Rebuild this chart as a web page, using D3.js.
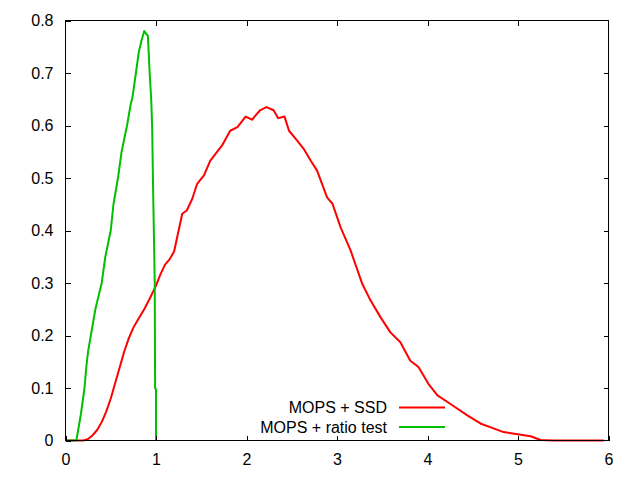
<!DOCTYPE html>
<html>
<head>
<meta charset="utf-8">
<script src="https://cdn.jsdelivr.net/npm/d3@7"></script>
<style>
  body { margin: 0; background: #fff; }
  text { font-family: "Liberation Sans", Arial, sans-serif; font-size: 16px; fill: #000; }
</style>
</head>
<body>
<div id="chart"></div>
<script>
// series: MOPS + SSD
const ssdX = [0, 0.2, 0.25, 0.3, 0.35, 0.4, 0.45, 0.5, 0.55, 0.6, 0.65, 0.7, 0.75, 0.8, 0.87, 0.93, 1.0,
  1.05, 1.1, 1.15, 1.2, 1.25, 1.29, 1.34, 1.4, 1.455, 1.53, 1.6, 1.73, 1.82, 1.9, 1.99, 2.06, 2.15,
  2.22, 2.3, 2.35, 2.42, 2.47, 2.56, 2.63, 2.71, 2.78, 2.89, 2.95, 3.04, 3.15, 3.28, 3.37, 3.48, 3.59,
  3.7, 3.81, 3.9, 4.01, 4.11, 4.25, 4.44, 4.59, 4.7, 4.84, 5.03, 5.14, 5.25, 5.39, 5.95];
const ssdY = [0, 0, 0.003, 0.01, 0.02, 0.035, 0.055, 0.08, 0.11, 0.14, 0.17, 0.195, 0.215, 0.23, 0.25, 0.27, 0.295,
  0.317, 0.335, 0.345, 0.36, 0.40, 0.432, 0.438, 0.46, 0.489, 0.505, 0.533, 0.562, 0.59, 0.597, 0.617, 0.611, 0.629,
  0.635, 0.629, 0.614, 0.617, 0.59, 0.571, 0.556, 0.533, 0.514, 0.463, 0.451, 0.406, 0.362, 0.298, 0.267, 0.235, 0.206,
  0.187, 0.152, 0.14, 0.108, 0.086, 0.07, 0.048, 0.032, 0.025, 0.016, 0.011, 0.008, 0.001, 0, 0];

// series: MOPS + ratio test
const ratioX = [0, 0.12, 0.14, 0.17, 0.21, 0.23, 0.25, 0.28, 0.33, 0.40, 0.44, 0.50, 0.53, 0.58, 0.62, 0.68,
  0.72, 0.74, 0.77, 0.81, 0.84, 0.87, 0.89, 0.91, 0.92, 0.93, 0.947, 0.958, 0.966, 0.976, 0.986, 0.99, 1.0, 1.0];
const ratioY = [0, 0, 0.02, 0.05, 0.10, 0.14, 0.17, 0.20, 0.25, 0.30, 0.35, 0.40, 0.45, 0.50, 0.55, 0.60,
  0.64, 0.654, 0.69, 0.74, 0.762, 0.78, 0.775, 0.771, 0.737, 0.70, 0.65, 0.594, 0.50, 0.40, 0.30, 0.10, 0.097, 0];

const xTicks = [0, 1, 2, 3, 4, 5, 6];
const yTicks = [0, 0.1, 0.2, 0.3, 0.4, 0.5, 0.6, 0.7, 0.8];

const series = [
  { name: 'MOPS + SSD', xs: ssdX, ys: ssdY, color: '#ff0000' },
  { name: 'MOPS + ratio test', xs: ratioX, ys: ratioY, color: '#00c000' }
];

const W = 640, H = 480;
const L = 65.5, R = 608.5, T = 20.5, B = 440.5;

const x = d3.scaleLinear().domain([0, 6]).range([L, R]);
const y = d3.scaleLinear().domain([0, 0.8]).range([B, T]);

const svg = d3.select('#chart').append('svg')
  .attr('width', W).attr('height', H);

// lines
const line = d3.line()
  .x(d => x(d[0]))
  .y(d => y(d[1]));

svg.selectAll('path.series')
  .data(series)
  .enter().append('path')
  .attr('class', 'series')
  .attr('d', s => line(s.xs.map((v, i) => [v, s.ys[i]])))
  .attr('fill', 'none')
  .attr('stroke', s => s.color)
  .attr('stroke-width', 2)
  .attr('stroke-linejoin', 'round');

// axes: gnuplot style box with inward mirrored ticks
const tickLen = 5;
const bottomAxis = svg.append('g').attr('transform', `translate(0,${B})`)
  .call(d3.axisBottom(x).tickValues(xTicks).tickSize(-tickLen).tickPadding(10).tickFormat(d3.format('d')));
const topAxis = svg.append('g').attr('transform', `translate(0,${T})`)
  .call(d3.axisTop(x).tickValues(xTicks.slice(1, -1)).tickSize(-tickLen).tickFormat(''));
const leftAxis = svg.append('g').attr('transform', `translate(${L},0)`)
  .call(d3.axisLeft(y).tickValues(yTicks).tickSize(-tickLen).tickPadding(12)
    .tickFormat(d => d === 0 ? '0' : d3.format('.1f')(d)));
const rightAxis = svg.append('g').attr('transform', `translate(${R},0)`)
  .call(d3.axisRight(y).tickValues(yTicks.slice(1, -1)).tickSize(-tickLen).tickFormat(''));

[bottomAxis, topAxis, leftAxis, rightAxis].forEach(g => {
  g.select('.domain').remove();
  g.selectAll('line').attr('stroke', '#000').attr('shape-rendering', 'crispEdges');
  g.selectAll('text').attr('font-family', null).attr('font-size', null).attr('fill', '#000');
});
bottomAxis.selectAll('text').attr('dy', '0.9em');

svg.append('rect')
  .attr('x', L).attr('y', T).attr('width', R - L).attr('height', B - T)
  .attr('fill', 'none').attr('stroke', '#000').attr('stroke-width', 1)
  .attr('shape-rendering', 'crispEdges');

// legend
const legend = svg.append('g');
series.forEach((s, i) => {
  const ly = 407.5 + i * 19.5;
  legend.append('text')
    .attr('x', 387).attr('y', ly).attr('dy', '0.35em')
    .attr('text-anchor', 'end')
    .text(s.name);
  legend.append('line')
    .attr('x1', 399).attr('x2', 445).attr('y1', ly).attr('y2', ly)
    .attr('stroke', s.color).attr('stroke-width', 2);
});
</script>
</body>
</html>
